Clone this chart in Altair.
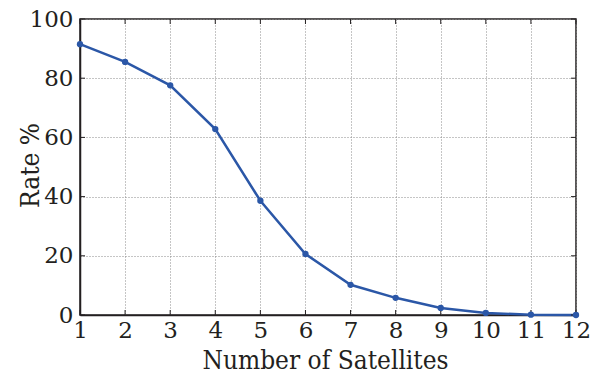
import altair as alt
import pandas as pd

satellites = [1, 2, 3, 4, 5, 6, 7, 8, 9, 10, 11, 12]
rate = [91.5, 85.5, 77.6, 62.8, 38.6, 20.6, 10.2, 5.8, 2.4, 0.7, 0.1, 0.0]
y_ticks = [0, 20, 40, 60, 80, 100]

W, H = 496, 296
COLOR = "#2b57a7"
LFONT = "DejaVu Serif"
TFONT = "DejaVu Serif Condensed, DejaVu Serif"
TXT = "#231f20"

df = pd.DataFrame({"n": satellites, "rate": rate})
dfy = pd.DataFrame({"v": y_ticks})

xs = alt.Scale(domain=[1, 12], nice=False, zero=False)
ys = alt.Scale(domain=[0, 100], nice=False)

grid = dict(grid=True, gridDash=[1, 2], gridColor="#8a8a8a", gridWidth=1, tickSize=0,
            labelFont=LFONT, titleFont=TFONT, labelColor=TXT, titleColor=TXT,
            titleFontWeight="normal", domainColor=TXT, domainWidth=1.5,
            labelFontSize=23, titleFontSize=26)

xaxis = alt.Axis(values=satellites, format="d", title="Number of Satellites",
                 labelPadding=4, labelFlush=False,
                 titleX=W / 2 - 3, titleY=53, titleBaseline="alphabetic", titleAlign="center",
                 **grid)
yaxis = alt.Axis(values=y_ticks, title="Rate %", labelPadding=7,
                 titleX=-42, titleY=H / 2 - 2, titleBaseline="alphabetic", titleAlign="center",
                 titleAngle=270, **grid)

base = alt.Chart(df)
line = base.mark_line(color=COLOR, strokeWidth=2.5).encode(
    x=alt.X("n:Q", scale=xs, axis=xaxis),
    y=alt.Y("rate:Q", scale=ys, axis=yaxis),
)
pts = base.mark_circle(color=COLOR, size=40, opacity=1).encode(
    x=alt.X("n:Q", scale=xs), y=alt.Y("rate:Q", scale=ys))

tick_b = base.mark_rule(color=TXT, strokeWidth=1).encode(
    x=alt.X("n:Q", scale=xs), y=alt.value(H), y2=alt.value(H - 5))
tick_t = base.mark_rule(color=TXT, strokeWidth=1).encode(
    x=alt.X("n:Q", scale=xs), y=alt.value(0), y2=alt.value(5))
ych = alt.Chart(dfy)
tick_l = ych.mark_rule(color=TXT, strokeWidth=1).encode(
    y=alt.Y("v:Q", scale=ys), x=alt.value(0), x2=alt.value(5))
tick_r = ych.mark_rule(color=TXT, strokeWidth=1).encode(
    y=alt.Y("v:Q", scale=ys), x=alt.value(W), x2=alt.value(W - 5))

chart = alt.layer(line, tick_b, tick_t, tick_l, tick_r, pts).properties(
    width=W, height=H, background="white",
    autosize=alt.AutoSizeParams(type="none"),
    padding={"left": 72, "top": 11, "right": 14, "bottom": 55},
).configure_view(stroke=TXT, strokeWidth=1.5)

chart.save("out.html", embed_options={"renderer": "svg", "actions": False})
